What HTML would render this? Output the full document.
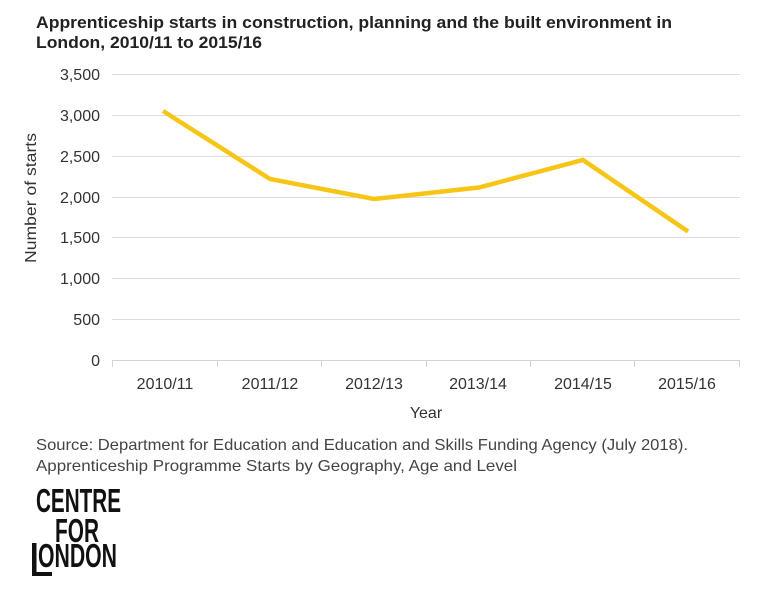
<!DOCTYPE html>
<html>
<head>
<meta charset="utf-8">
<style>
  html, body { margin: 0; padding: 0; background: #ffffff; }
  svg { display: block; }
  text { font-family: "Liberation Sans", "DejaVu Sans", sans-serif; }
</style>
</head>
<body>
<svg width="768" height="591" viewBox="0 0 768 591" xmlns="http://www.w3.org/2000/svg">
  <rect x="0" y="0" width="768" height="591" fill="#ffffff"/>

  <!-- Title -->
  <text x="36" y="28" font-size="17" font-weight="bold" fill="#222222" textLength="636" lengthAdjust="spacingAndGlyphs">Apprenticeship starts in construction, planning and the built environment in</text>
  <text x="36" y="48" font-size="17" font-weight="bold" fill="#222222" textLength="226" lengthAdjust="spacingAndGlyphs">London, 2010/11 to 2015/16</text>

  <!-- Gridlines -->
  <g stroke="#dddddd" stroke-width="1">
    <line x1="112" y1="74.5" x2="740" y2="74.5"/>
    <line x1="112" y1="115.5" x2="740" y2="115.5"/>
    <line x1="112" y1="156.5" x2="740" y2="156.5"/>
    <line x1="112" y1="197.5" x2="740" y2="197.5"/>
    <line x1="112" y1="237.5" x2="740" y2="237.5"/>
    <line x1="112" y1="278.5" x2="740" y2="278.5"/>
    <line x1="112" y1="319.5" x2="740" y2="319.5"/>
  </g>
  <!-- X axis -->
  <g stroke="#d4d4d4" stroke-width="1">
    <line x1="112" y1="360.5" x2="740" y2="360.5"/>
    <line x1="112.5" y1="360" x2="112.5" y2="367"/>
    <line x1="217.5" y1="360" x2="217.5" y2="367"/>
    <line x1="321.5" y1="360" x2="321.5" y2="367"/>
    <line x1="426.5" y1="360" x2="426.5" y2="367"/>
    <line x1="530.5" y1="360" x2="530.5" y2="367"/>
    <line x1="634.5" y1="360" x2="634.5" y2="367"/>
    <line x1="739.5" y1="360" x2="739.5" y2="367"/>
  </g>

  <!-- Y tick labels -->
  <g font-size="16" fill="#333333" text-anchor="end">
    <text x="100" y="80">3,500</text>
    <text x="100" y="121">3,000</text>
    <text x="100" y="162">2,500</text>
    <text x="100" y="203">2,000</text>
    <text x="100" y="243">1,500</text>
    <text x="100" y="284">1,000</text>
    <text x="100" y="325">500</text>
    <text x="100" y="366">0</text>
  </g>

  <!-- Y axis title -->
  <text transform="translate(36,198) rotate(-90)" font-size="16" fill="#333333" text-anchor="middle" textLength="130" lengthAdjust="spacingAndGlyphs">Number of starts</text>

  <!-- X tick labels -->
  <g font-size="16" fill="#333333" text-anchor="middle">
    <text x="165" y="389">2010/11</text>
    <text x="270" y="389">2011/12</text>
    <text x="374" y="389">2012/13</text>
    <text x="478" y="389">2013/14</text>
    <text x="583" y="389">2014/15</text>
    <text x="687" y="389">2015/16</text>
  </g>
  <text x="426" y="418" font-size="16" fill="#333333" text-anchor="middle">Year</text>

  <!-- Series -->
  <polyline points="163,111 270,179 374,199 479,187.5 583,160 688,231.5" fill="none" stroke="#F6C516" stroke-width="4.5" stroke-linejoin="miter" stroke-linecap="butt"/>

  <!-- Source -->
  <text x="36" y="450" font-size="16" fill="#444444" textLength="652" lengthAdjust="spacingAndGlyphs">Source: Department for Education and Education and Skills Funding Agency (July 2018).</text>
  <text x="36" y="471" font-size="16" fill="#444444" textLength="481" lengthAdjust="spacingAndGlyphs">Apprenticeship Programme Starts by Geography, Age and Level</text>

  <!-- Logo -->
  <g fill="#111111" font-weight="bold" font-size="33">
    <text x="36" y="512" textLength="85" lengthAdjust="spacingAndGlyphs">CENTRE</text>
    <text x="55" y="542" textLength="44" lengthAdjust="spacingAndGlyphs">FOR</text>
    <text x="38" y="567" textLength="79" lengthAdjust="spacingAndGlyphs">ONDON</text>
    <rect x="32" y="543" width="4.5" height="33"/>
    <rect x="32" y="572" width="20" height="4"/>
  </g>
</svg>
</body>
</html>
